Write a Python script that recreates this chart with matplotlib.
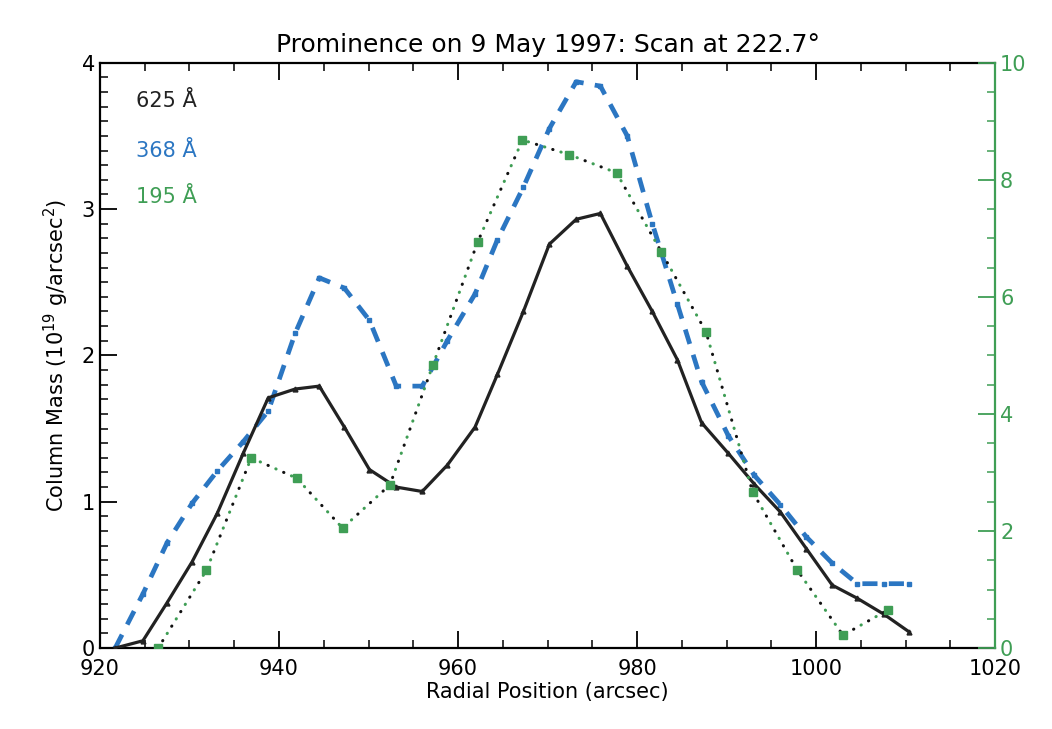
import numpy as np
import matplotlib
matplotlib.use('Agg')
import matplotlib.pyplot as plt
from matplotlib.ticker import MultipleLocator

plt.rcParams['font.family'] = ['DejaVu Sans']

# 625 A and 368 A share the same radial grid
x_scan = [921.7, 924.8, 927.5, 930.3, 933.1, 936.0, 938.8, 941.8, 944.5, 947.3,
          950.1, 953.1, 956.0, 958.8, 961.9, 964.4, 967.3, 970.2, 973.2, 975.9,
          978.9, 981.7, 984.5, 987.2, 990.2, 993.1, 996.0, 998.9, 1001.8, 1004.6,
          1007.6, 1010.4]
mass_625 = [0.0, 0.05, 0.31, 0.59, 0.92, 1.33, 1.71, 1.77, 1.79, 1.51,
            1.22, 1.10, 1.07, 1.25, 1.51, 1.87, 2.30, 2.76, 2.93, 2.97,
            2.61, 2.30, 1.97, 1.54, 1.33, 1.12, 0.93, 0.68, 0.43, 0.34,
            0.23, 0.11]
mass_368 = [0.0, 0.37, 0.72, 0.99, 1.21, 1.41, 1.62, 2.15, 2.53, 2.46,
            2.24, 1.79, 1.79, 2.10, 2.42, 2.79, 3.15, 3.55, 3.87, 3.84,
            3.50, 2.90, 2.35, 1.82, 1.45, 1.18, 0.98, 0.76, 0.58, 0.44,
            0.44, 0.44]

# 195 A on the right-hand axis
x_195 = [926.5, 931.9, 936.9, 942.0, 947.1, 952.4, 957.2, 962.2, 967.2,
         972.4, 977.7, 982.7, 987.7, 992.9, 997.9, 1003.0, 1008.0]
mass_195 = [0.0, 1.33, 3.25, 2.90, 2.05, 2.79, 4.84, 6.94, 8.68,
            8.43, 8.12, 6.77, 5.40, 2.67, 1.33, 0.22, 0.65]

blue = '#2b76c2'
green = '#3f9e55'

fig = plt.figure(figsize=(10.52, 7.29), dpi=100)
ax = fig.add_axes([0.095, 0.111, 0.851, 0.803])
ax2 = ax.twinx()

# 625 A: solid black
ax.plot(x_scan, mass_625, color='#222222', lw=2.3, marker='^', ms=3.5,
        zorder=3)
# 368 A: long dashes
ax.plot(x_scan, mass_368, color=blue, lw=3.4, dashes=(3.2, 2.4),
        marker='s', ms=2.5, zorder=2)
# 195 A: dotted, green and black dots alternating (same period, offset)
ax2.plot(x_195, mass_195, color=green, lw=2.2, linestyle=(0, (0.1, 5.5)),
         dash_capstyle='round')
ax2.plot(x_195, mass_195, color='#111111', lw=2.2, linestyle=(2.8, (0.1, 5.5)),
         dash_capstyle='round')
ax2.plot(x_195, mass_195, color=green, lw=0, marker='s', ms=6)

ax.set_xlim(920, 1020)
ax.set_ylim(0, 4)
ax2.set_ylim(0, 10)

ax.xaxis.set_major_locator(MultipleLocator(20))
ax.xaxis.set_minor_locator(MultipleLocator(5))
ax.yaxis.set_major_locator(MultipleLocator(1))
ax.yaxis.set_minor_locator(MultipleLocator(0.1))
ax2.yaxis.set_major_locator(MultipleLocator(2))
ax2.yaxis.set_minor_locator(MultipleLocator(0.5))

ax.tick_params(axis='x', which='both', direction='in', top=True, labelsize=15,
               pad=8)
ax.tick_params(axis='x', which='major', length=12, width=1.3)
ax.tick_params(axis='x', which='minor', length=6, width=1.1)
ax.tick_params(axis='y', which='major', direction='in', length=12, width=1.3,
               labelsize=15, right=False)
ax.tick_params(axis='y', which='minor', direction='in', length=6, width=1.1,
               right=False)
ax2.tick_params(axis='y', which='major', direction='in', length=12, width=1.3,
                colors=green, labelsize=15)
ax2.tick_params(axis='y', which='minor', direction='in', length=6, width=1.1,
                colors=green)

for s in ['left', 'top', 'bottom']:
    ax.spines[s].set_linewidth(1.6)
ax2.spines['right'].set_color(green)
ax2.spines['right'].set_linewidth(1.6)
ax2.spines['left'].set_visible(False)
ax2.spines['top'].set_visible(False)
ax2.spines['bottom'].set_visible(False)
ax.spines['right'].set_visible(False)

ax.set_xlabel('Radial Position (arcsec)', fontsize=15, labelpad=2)
ax.set_ylabel('Column Mass (10$^{19}$ g/arcsec$^2$)', fontsize=15, labelpad=8)
ax.set_title('Prominence on 9 May 1997: Scan at 222.7°', fontsize=18, pad=8)

ax.text(0.04, 0.935, '625 Å', transform=ax.transAxes, fontsize=15,
        color='#222222', va='center')
ax.text(0.04, 0.85, '368 Å', transform=ax.transAxes, fontsize=15,
        color=blue, va='center')
ax.text(0.04, 0.77, '195 Å', transform=ax.transAxes, fontsize=15,
        color=green, va='center')

fig.savefig('out.png', dpi=100)
